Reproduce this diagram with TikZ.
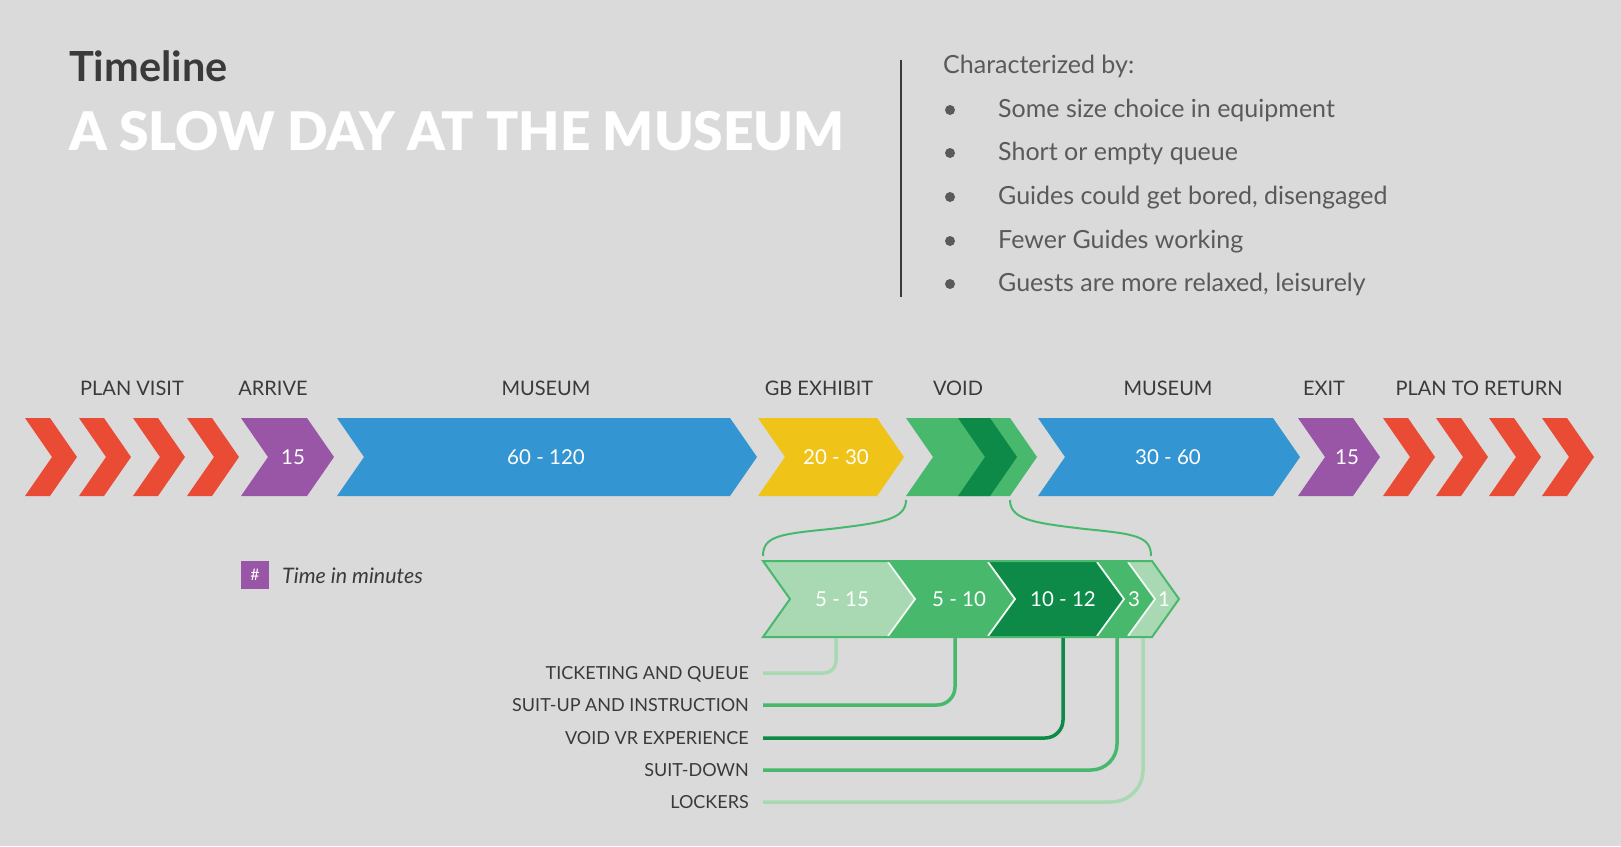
\documentclass[tikz,border=0pt]{standalone}
\usepackage{fontspec}
\setmainfont{Lato}
\newfontfamily\blackfont{Lato Black}
\definecolor{bg}{HTML}{DADADA}
\definecolor{cred}{HTML}{E94B35}
\definecolor{cpurple}{HTML}{9A56A6}
\definecolor{cblue}{HTML}{3396D3}
\definecolor{cyellow}{HTML}{F0C318}
\definecolor{cgreen}{HTML}{48B86D}
\definecolor{cdgreen}{HTML}{0D8A47}
\definecolor{clgreen}{HTML}{A8D9B3}
\definecolor{ctext}{HTML}{3A3A3A}
\definecolor{cgrey}{HTML}{5A5A5A}
\newcommand\chevfill[6]{\fill[#1] (#2,#4) -- (#3,#4) -- ({#3+#6},{(#4+#5)/2}) -- (#3,#5) -- (#2,#5) -- ({#2+#6},{(#4+#5)/2}) -- cycle;}
\begin{document}
\begin{tikzpicture}[x=1pt,y=-1pt,
  blabel/.style={inner sep=0pt, text=ctext, font=\fontsize{20}{20}\selectfont, text height=14.4pt, text depth=0pt},
  numlab/.style={inner sep=0pt, text=white, font=\fontsize{20.5}{20}\selectfont, text height=14.4pt, text depth=0pt},
  dlabel/.style={inner sep=0pt, anchor=east, text=ctext, font=\fontsize{18}{18}\selectfont, text height=13pt, text depth=0pt},
  item/.style={inner sep=0pt, anchor=base west, text=cgrey, font=\fontsize{25}{25}\selectfont},
  conn/.style={line width=3.5pt},
  brace/.style={draw=cgreen, line width=2pt},
  sep/.style={draw=white!85!clgreen, line width=1.8pt}
]
\fill[bg] (0,0) rectangle (1621,846);
\useasboundingbox (0,0) rectangle (1621,846);

% header
\node[anchor=base west, inner sep=0pt, text=ctext, font=\fontsize{41.5}{41.5}\selectfont\bfseries] (tl) at (69,81) {Timeline};
\node[anchor=base west, inner sep=0pt, text=white, font=\blackfont\fontsize{53.2}{53.2}\selectfont] (title) at (69,150) {A SLOW DAY AT THE MUSEUM};
\coordinate (vtop) at (901,60);
\coordinate (vbot) at (901,297);
\draw[ctext, line width=2pt] (vtop) -- (vbot);
\node[item] (char) at (943,73) {Characterized by:};
\foreach \y/\t [count=\i] in {117/Some size choice in equipment, 160/Short or empty queue, 204/{Guides could get bored, disengaged}, 248/Fewer Guides working, 291/{Guests are more relaxed, leisurely}}{
  \fill[cgrey] (950,\y-7) circle (5);
  \node[item] (it\i) at (998,\y) {\t};
}

% main band
\foreach \L in {25,79,133,187}{\chevfill{cred}{\L}{\L+25}{418}{496}{27}}
\chevfill{cpurple}{241}{307}{418}{496}{27}
\chevfill{cblue}{337}{730}{418}{496}{27}
\chevfill{cyellow}{758}{877}{418}{496}{27}
\chevfill{cgreen}{906}{1010}{418}{496}{27}
\chevfill{cdgreen}{958}{990}{418}{496}{27}
\chevfill{cblue}{1038}{1273}{418}{496}{27}
\chevfill{cpurple}{1298}{1353}{418}{496}{27}
\foreach \L in {1383,1436,1489,1542}{\chevfill{cred}{\L}{\L+25}{418}{496}{27}}

% band labels
\node[blabel] (lplan) at (132,388) {PLAN VISIT};
\node[blabel] (larr) at (273,388) {ARRIVE};
\node[blabel] (lmus1) at (546,388) {MUSEUM};
\node[blabel] (lgb) at (819,388) {GB EXHIBIT};
\node[blabel] (lvoid) at (958,388) {VOID};
\node[blabel] (lmus2) at (1168,388) {MUSEUM};
\node[blabel] (lexit) at (1324,388) {EXIT};
\node[blabel] (lret) at (1479,388) {PLAN TO RETURN};

\node[numlab] (n1) at (293,457) {15};
\node[numlab] (n2) at (546,457) {60 - 120};
\node[numlab] (n3) at (836,457) {20 - 30};
\node[numlab] (n4) at (1168,457) {30 - 60};
\node[numlab] (n5) at (1347,457) {15};

% legend
\node[fill=cpurple, minimum size=28pt, inner sep=0pt, text=white, font=\fontsize{16}{16}\selectfont] (leg) at (255,575) {\#};
\node[anchor=west, inner sep=0pt, text=ctext, font=\fontsize{21.4}{21}\selectfont\itshape, text height=15pt, text depth=0pt] (legt) at (282,576) {Time in minutes};

% braces
\coordinate (gbl) at (906,500);
\coordinate (gbr) at (1010,500);
\coordinate (dtl) at (763,556);
\coordinate (dtr) at (1151,556);
\draw[brace] (dtl) .. controls (763,536) and (780,534) .. (830,529) .. controls (880,523) and (906,520) .. (gbl);
\draw[brace] (gbr) .. controls (1010,520) and (1035,523) .. (1085,529) .. controls (1135,534) and (1151,536) .. (dtr);

% detail band
\chevfill{clgreen}{763}{888}{561}{637}{27}
\chevfill{cgreen}{888}{988}{561}{637}{27}
\chevfill{cdgreen}{988}{1097}{561}{637}{27}
\chevfill{cgreen}{1097}{1128}{561}{637}{27}
\chevfill{clgreen}{1128}{1152}{561}{637}{27}
\foreach \x in {888,988,1097,1128}{\draw[sep] (\x,562) -- (\x+27,599) -- (\x,636);}
\draw[cgreen, line width=2pt] (763,561) -- (1152,561) -- (1179,599) -- (1152,637) -- (763,637) -- (790,599) -- cycle;

\node[numlab] (m1) at (842,599) {5 - 15};
\node[numlab] (m2) at (959,599) {5 - 10};
\node[numlab] (m3) at (1063,599) {10 - 12};
\node[numlab] (m4) at (1134,599) {3};
\node[numlab] (m5) at (1164,599) {1};

% detail labels
\node[dlabel] (t1) at (749,673) {TICKETING AND QUEUE};
\node[dlabel] (t2) at (749,705) {SUIT-UP AND INSTRUCTION};
\node[dlabel] (t3) at (749,738) {VOID VR EXPERIENCE};
\node[dlabel] (t4) at (749,770) {SUIT-DOWN};
\node[dlabel] (t5) at (749,802) {LOCKERS};

\coordinate (d1) at (836,638);
\coordinate (d2) at (955,638);
\coordinate (d3) at (1063,638);
\coordinate (d4) at (1117,638);
\coordinate (d5) at (1143,638);
\draw[conn, clgreen, rounded corners=12pt] (d1) |- ([xshift=14pt]t1.east);
\draw[conn, cgreen, rounded corners=18pt] (d2) |- ([xshift=14pt]t2.east);
\draw[conn, cdgreen, rounded corners=18pt] (d3) |- ([xshift=14pt]t3.east);
\draw[conn, cgreen, rounded corners=26pt] (d4) |- ([xshift=14pt]t4.east);
\draw[conn, clgreen, rounded corners=32pt] (d5) |- ([xshift=14pt]t5.east);
\end{tikzpicture}
\end{document}
